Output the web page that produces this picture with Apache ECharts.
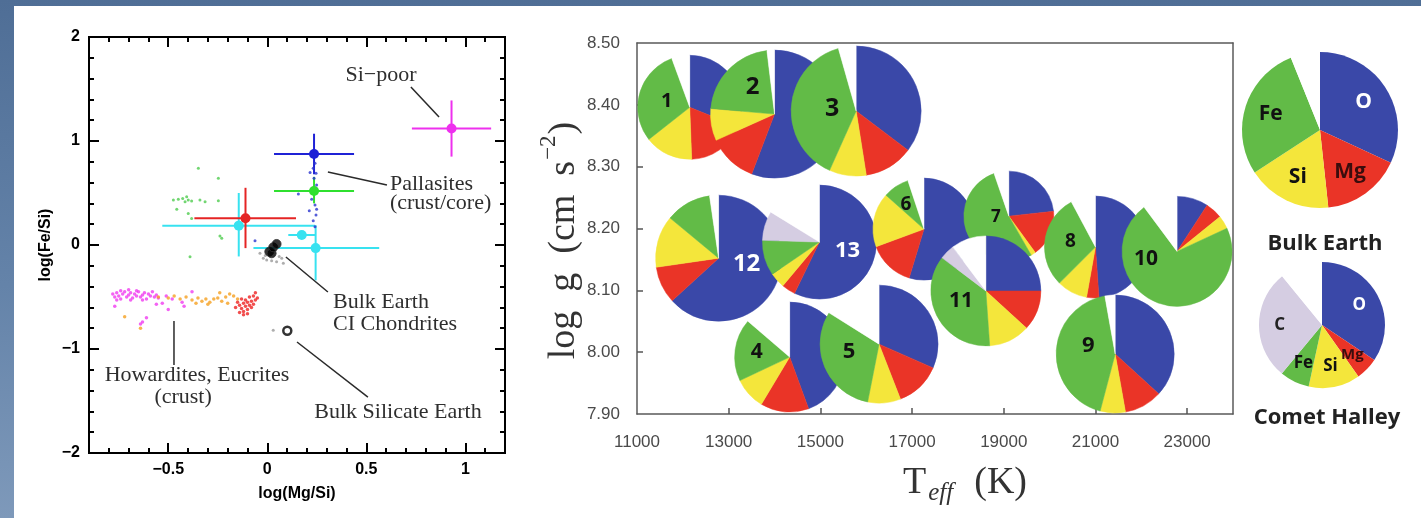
<!DOCTYPE html>
<html><head><meta charset="utf-8">
<script src="https://cdn.jsdelivr.net/npm/echarts@6/dist/echarts.min.js"></script>
<style>
html,body{margin:0;padding:0;width:1421px;height:518px;overflow:hidden;background:linear-gradient(180deg,#4f6e96 0%,#6483a9 55%,#7e99ba 100%);}
#panel{position:absolute;left:14px;top:6px;right:0;bottom:0;background:#fff;}
#chart{position:absolute;left:0;top:0;width:1421px;height:518px;}
</style></head><body><div id="panel"></div><div id="chart"></div>
<script>
// ================= LEFT PANEL DATA: log(Mg/Si) vs log(Fe/Si) =================
const leftXMajor = [-0.5, 0, 0.5, 1];
const leftXMinor = [-0.8,-0.7,-0.6,-0.4,-0.3,-0.2,-0.1,0.1,0.2,0.3,0.4,0.6,0.7,0.8,0.9,1.1];
const leftYMajor = [-2, -1, 0, 1, 2];
const leftYMinor = [-1.8,-1.6,-1.4,-1.2,-0.8,-0.6,-0.4,-0.2,0.2,0.4,0.6,0.8,1.2,1.4,1.6,1.8];

// error-bar objects (cyan x3, red, green, blue, magenta)
const ebX   = [0.244, 0.174, -0.144, -0.110, 0.236, 0.236, 0.930];
const ebY   = [-0.030, 0.096, 0.186, 0.257, 0.520, 0.875, 1.120];
const ebXlo = [-0.070, 0.106, -0.530, -0.368, 0.034, 0.034, 0.730];
const ebXhi = [0.565, 0.241, 0.241, 0.145, 0.438, 0.438, 1.130];
const ebYlo = [-0.340, 0.096, -0.110, -0.030, 0.400, 0.680, 0.850];
const ebYhi = [0.190, 0.096, 0.500, 0.550, 0.655, 1.070, 1.390];
const ebColor = ['#38e2f0','#38e2f0','#38e2f0','#e52424','#2fe02f','#1f22d6','#ee30ee'];

const bulkEarthPts = [[0.010,-0.064],[0.022,-0.080],[0.030,-0.022],[0.047,0.010]];
const bsePts = [[0.101,-0.824]];
const grayDots = [[-0.037,-0.080],[-0.020,-0.128],[-0.003,-0.144],[0.022,-0.151],[0.047,-0.160],[0.073,-0.128],[0.081,-0.176],[0.030,-0.820],[0.060,-0.110],[-0.010,-0.100]];
const greenDots = [[-0.348,0.737],[-0.247,0.641],[-0.474,0.433],[-0.449,0.439],[-0.427,0.446],[-0.407,0.465],[-0.399,0.433],[-0.415,0.417],[-0.382,0.423],[-0.340,0.433],[-0.314,0.417],[-0.247,0.426],[-0.457,0.343],[-0.399,0.304],[-0.382,0.256],[-0.239,0.087],[-0.230,0.064],[-0.390,-0.112]];
const blueDots = [[0.241,0.785],[0.232,0.737],[0.246,0.689],[0.216,0.696],[0.236,0.641],[0.249,0.577],[0.157,0.490],[0.224,0.439],[0.241,0.385],[0.249,0.343],[0.212,0.330],[0.246,0.288],[0.232,0.234],[0.241,0.176],[-0.062,0.042]];
const magentaDots = [[-0.78,-0.47],[-0.77,-0.50],[-0.76,-0.46],[-0.75,-0.49],[-0.74,-0.52],[-0.73,-0.47],[-0.72,-0.45],[-0.71,-0.50],[-0.70,-0.48],[-0.69,-0.46],[-0.68,-0.51],[-0.67,-0.47],[-0.66,-0.49],[-0.65,-0.45],[-0.64,-0.50],[-0.63,-0.48],[-0.62,-0.46],[-0.61,-0.52],[-0.60,-0.47],[-0.59,-0.49],[-0.58,-0.45],[-0.57,-0.50],[-0.56,-0.48],[-0.55,-0.51],[-0.74,-0.44],[-0.70,-0.43],[-0.66,-0.44],[-0.76,-0.53],[-0.69,-0.53],[-0.63,-0.53],[-0.77,-0.59],[-0.51,-0.49],[-0.48,-0.52],[-0.50,-0.62],[-0.43,-0.55],[-0.42,-0.59],[-0.63,-0.74],[-0.61,-0.70],[-0.64,-0.76],[-0.38,-0.45],[-0.53,-0.56],[-0.56,-0.57]];
const orangeDots = [[-0.55,-0.50],[-0.50,-0.51],[-0.47,-0.49],[-0.44,-0.52],[-0.41,-0.50],[-0.38,-0.53],[-0.35,-0.51],[-0.33,-0.54],[-0.31,-0.52],[-0.29,-0.55],[-0.27,-0.52],[-0.25,-0.51],[-0.23,-0.54],[-0.21,-0.50],[-0.19,-0.47],[-0.17,-0.49],[-0.36,-0.56],[-0.30,-0.57],[-0.72,-0.69],[-0.64,-0.80],[-0.24,-0.46],[-0.20,-0.56],[-0.15,-0.52]];
const redDots = [[-0.15,-0.55],[-0.14,-0.58],[-0.13,-0.52],[-0.13,-0.61],[-0.12,-0.56],[-0.12,-0.64],[-0.11,-0.53],[-0.11,-0.59],[-0.10,-0.62],[-0.10,-0.55],[-0.09,-0.58],[-0.09,-0.50],[-0.08,-0.60],[-0.08,-0.54],[-0.07,-0.57],[-0.07,-0.49],[-0.06,-0.53],[-0.12,-0.67],[-0.14,-0.65],[-0.10,-0.66],[-0.16,-0.60],[-0.06,-0.46],[-0.05,-0.51]];

// annotations (text anchored in data units)
const annoText  = ['Si\u2212poor','Pallasites','(crust/core)','Bulk Earth','CI Chondrites','Howardites, Eucrites','(crust)','Bulk Silicate Earth'];
const annoX     = [0.574, 0.619, 0.619, 0.332, 0.332, -0.355, -0.425, 0.660];
const annoY     = [1.635, 0.587, 0.404, -0.548, -0.760, -1.250, -1.462, -1.606];
const annoAlign = ['center','left','left','left','left','center','center','center'];
const leaderX1 = [0.725, 0.306, 0.094, 0.150, -0.471];
const leaderY1 = [1.519, 0.702, -0.115, -0.933, -0.731];
const leaderX2 = [0.867, 0.604, 0.306, 0.508, -0.471];
const leaderY2 = [1.231, 0.577, -0.452, -1.462, -1.154];

// ================= RIGHT PANEL DATA: Teff vs log g, pie compositions (%) =================
const rightXLabels = [11000,13000,15000,17000,19000,21000,23000];
const rightXTicks  = [13000,15000,17000,19000,21000,23000];
const rightYLabels = [7.9,8.0,8.1,8.2,8.3,8.4,8.5];
const rightYTicks  = [8.0,8.1,8.2,8.3,8.4];

const pieIds = ['1','2','3','12','13','4','5','6','7','8','9','10','11'];
const pieTeff = [12150,14000,15780,12780,14980,14330,16280,17260,19110,21000,21430,22780,18610];
const pieLogg = [8.396,8.385,8.390,8.152,8.178,7.992,8.013,8.199,8.220,8.170,7.997,8.163,8.099];
const pctO    = [31.1,55.8,35.3,63.2,57.2,44.4,31.6,54.7,23.3,48.9,36.8, 9.2,25.0];
const pctMg   = [18.3,12.5,12.2, 9.5, 3.9,14.2,12.5,14.7,16.7, 3.9,10.4, 5.0,11.8];
const pctSi   = [15.0, 8.1, 9.2,13.3, 4.4, 9.4, 9.0,17.2, 1.7, 9.7, 6.9, 3.9,12.1];
const pctFe   = [30.0,21.7,38.9,11.7,10.0,18.3,30.8, 8.3,53.0,29.7,43.1,71.7,36.4];
const pctC    = [ 0.0, 0.0, 0.0, 0.0, 8.3, 0.0, 0.0, 0.0, 0.0, 0.0, 0.0, 0.0, 4.4];
const pctRest = [ 5.6, 1.9, 4.4, 2.3,16.2,13.7,16.1, 5.1, 5.3, 7.8, 2.8,10.2,10.3];

const elementNames = ['O','Mg','Si','Fe','C',''];
const bulkEarthPct   = [31.9,16.4,17.5,28.1, 0.0, 6.1];
const cometHalleyPct = [34.4, 5.8,13.2, 7.6,28.1,10.9];

// ---------- layout / style (kept apart from the data) ----------
const sliceColors = ['#3a48a8','#ea3427','#f4e63b','#62bb47','#d5cde2','#ffffff'];
const pieRadiusPx = [52,64,65,63,57,55,59,51,45,51,59,55,55];
const pieLabelOffset = [[-23,-6],[-22,-27],[-24,-2],[28,6],[28,9],[-33,-5],[-30,8],[-18,-25],[-13,1],[-25,-5],[-27,-8],[-31,8],[-25,10]];
const pieLabelColor = ['#111','#111','#111','#fff','#fff','#111','#111','#111','#111','#111','#111','#111','#111'];

const minus = v => (v < 0 ? '\u2212' + Math.abs(v) : String(v));

const chart = echarts.init(document.getElementById('chart'), null, {renderer: 'canvas'});

const axisFontL = {fontFamily: 'Liberation Sans', fontWeight: 'bold', fontSize: 16, color: '#000'};
function leftAxis(pos, min, max, ticks, len, labels, extra) {
  return Object.assign({
    gridIndex: 0, type: 'value', position: pos, min: min, max: max,
    axisLine: {show: true, onZero: false, lineStyle: {color: '#000', width: 2}}, splitLine: {show: false},
    axisTick: {show: true, inside: true, length: len, customValues: ticks, lineStyle: {color: '#000', width: 2}},
    axisLabel: labels ? Object.assign({customValues: labels, formatter: minus, margin: 9}, axisFontL) : {show: false}
  }, extra || {});
}

const rightLabelFont = {fontFamily: 'Liberation Sans', fontSize: 17, color: '#4a4a4a'};
const serif = 'Liberation Serif';

function legendPieSeries(center, radius, pct, labelSize) {
  const base = elementNames.map((n, k) => ({name: n, value: pct[k], color: sliceColors[k]})).filter(d => d.value > 0);
  const labelColor = {O: '#fff', Mg: '#3a0d0d', Si: '#111', Fe: '#111', C: '#222', '': '#000'};
  return [
    {type: 'pie', center: center, radius: radius, startAngle: 90, clockwise: true, silent: true, animation: false,
     label: {show: false}, labelLine: {show: false}, emphasis: {disabled: true},
     data: base.map(d => ({name: d.name, value: d.value, itemStyle: {color: d.color, borderWidth: 0}}))},
    {type: 'pie', center: center, radius: radius * 1.25, startAngle: 90, clockwise: true, silent: true, animation: false,
     avoidLabelOverlap: false, labelLine: {show: false}, emphasis: {disabled: true},
     label: {show: true, position: 'inside', formatter: '{b}', fontFamily: 'Open Sans', fontWeight: 'bold', fontSize: labelSize},
     data: base.map(d => ({name: d.name, value: d.value, itemStyle: {color: 'rgba(0,0,0,0)', borderWidth: 0},
       label: {color: labelColor[d.name], fontSize: d.name === 'Mg' && labelSize < 20 ? labelSize - 2 : labelSize}}))}
  ];
}

const rightAxisLine = {show: true, onZero: false, lineStyle: {color: '#5a5a5a', width: 1.5}};

const option = {
  animation: false,
  backgroundColor: 'transparent',
  title: [
    {text: 'Bulk Earth', left: 1320, top: 228, textAlign: 'center', textStyle: {fontFamily: 'Open Sans', fontWeight: 'bold', fontSize: 22, color: '#222'}},
    {text: 'Comet Halley', left: 1322, top: 402, textAlign: 'center', textStyle: {fontFamily: 'Open Sans', fontWeight: 'bold', fontSize: 22, color: '#222'}}
  ],
  grid: [
    {left: 89, top: 37, width: 416, height: 416, show: false},
    {left: 637, top: 43, width: 596, height: 371, show: false}
  ],
  xAxis: [
    leftAxis('bottom', -0.9, 1.2, leftXMajor, 10, leftXMajor, {
      name: 'log(Mg/Si)', nameLocation: 'middle', nameGap: 33,
      nameTextStyle: Object.assign({}, axisFontL)}),
    leftAxis('bottom', -0.9, 1.2, leftXMinor, 5, null),
    leftAxis('top', -0.9, 1.2, leftXMajor, 10, null),
    leftAxis('top', -0.9, 1.2, leftXMinor, 5, null),
    {gridIndex: 1, type: 'value', position: 'bottom', min: 11000, max: 24000,
     axisLine: rightAxisLine, splitLine: {show: false},
     axisTick: {show: true, inside: true, length: 6, customValues: rightXTicks, lineStyle: {color: '#555', width: 1.5}},
     axisLabel: Object.assign({customValues: rightXLabels, margin: 20, formatter: v => String(v)}, rightLabelFont),
     name: '{T|T}{s|eff}{n|  (K)}', nameLocation: 'middle', nameGap: 50,
     nameTextStyle: {padding: [0, 0, 0, 60], rich: {
       T: {fontFamily: serif, fontSize: 38, color: '#333', lineHeight: 42, verticalAlign: 'top'},
       s: {fontFamily: serif, fontStyle: 'italic', fontSize: 25, color: '#333', lineHeight: 22, padding: [24, 2, 0, 2], verticalAlign: 'bottom'},
       n: {fontFamily: serif, fontSize: 38, color: '#333', lineHeight: 42, verticalAlign: 'top'}}}},
    {gridIndex: 1, type: 'value', position: 'top', min: 11000, max: 24000,
     axisLine: rightAxisLine, splitLine: {show: false}, axisTick: {show: false}, axisLabel: {show: false}}
  ],
  yAxis: [
    leftAxis('left', -2, 2, leftYMajor, 10, leftYMajor, {
      name: 'log(Fe/Si)', nameLocation: 'middle', nameGap: 35, nameRotate: 90,
      nameTextStyle: Object.assign({}, axisFontL)}),
    leftAxis('left', -2, 2, leftYMinor, 5, null),
    leftAxis('right', -2, 2, leftYMajor, 10, null),
    leftAxis('right', -2, 2, leftYMinor, 5, null),
    {gridIndex: 1, type: 'value', position: 'left', min: 7.9, max: 8.5,
     axisLine: rightAxisLine, splitLine: {show: false},
     axisTick: {show: true, inside: true, length: 6, customValues: rightYTicks, lineStyle: {color: '#555', width: 1.5}},
     axisLabel: Object.assign({customValues: rightYLabels, margin: 17, formatter: v => v.toFixed(2)}, rightLabelFont),
     name: '{a|log  }{g|g}{a|  (cm  s}{sup|\u22122}{a|)}', nameLocation: 'middle', nameGap: 52, nameRotate: 90,
     nameTextStyle: {padding: [0, 24, 0, 0], rich: {
       a: {fontFamily: serif, fontSize: 38, color: '#333', lineHeight: 46, verticalAlign: 'bottom'},
       g: {fontFamily: serif, fontSize: 38, color: '#333', lineHeight: 46, verticalAlign: 'bottom'},
       sup: {fontFamily: serif, fontSize: 23, color: '#333', lineHeight: 22, padding: [0, 1, 0, 1], verticalAlign: 'top'}}}},
    {gridIndex: 1, type: 'value', position: 'right', min: 7.9, max: 8.5,
     axisLine: rightAxisLine, splitLine: {show: false}, axisTick: {show: false}, axisLabel: {show: false}}
  ],
  series: [
    // ---- left small dots ----
    {type: 'scatter', xAxisIndex: 0, yAxisIndex: 0, symbolSize: 3, itemStyle: {color: '#9a9a9a'}, data: grayDots, silent: true},
    {type: 'scatter', xAxisIndex: 0, yAxisIndex: 0, symbolSize: 3, itemStyle: {color: '#4fcc4f'}, data: greenDots, silent: true},
    {type: 'scatter', xAxisIndex: 0, yAxisIndex: 0, symbolSize: 3, itemStyle: {color: '#2b35cf'}, data: blueDots, silent: true},
    {type: 'scatter', xAxisIndex: 0, yAxisIndex: 0, symbolSize: 3.5, itemStyle: {color: '#f03cf0'}, data: magentaDots, silent: true},
    {type: 'scatter', xAxisIndex: 0, yAxisIndex: 0, symbolSize: 3.5, itemStyle: {color: '#f5a020'}, data: orangeDots, silent: true},
    {type: 'scatter', xAxisIndex: 0, yAxisIndex: 0, symbolSize: 3.5, itemStyle: {color: '#ee2222'}, data: redDots, silent: true},
    // ---- error bar crosses ----
    {type: 'custom', xAxisIndex: 0, yAxisIndex: 0, silent: true,
     data: ebX.map((x, i) => [x, ebY[i], ebXlo[i], ebXhi[i], ebYlo[i], ebYhi[i]]),
     encode: {x: [0, 2, 3], y: [1, 4, 5]},
     renderItem: function (params, api) {
       const i = params.dataIndex, col = ebColor[i];
       const c = api.coord([api.value(0), api.value(1)]);
       const xl = api.coord([api.value(2), api.value(1)]), xh = api.coord([api.value(3), api.value(1)]);
       const yl = api.coord([api.value(0), api.value(4)]), yh = api.coord([api.value(0), api.value(5)]);
       return {type: 'group', children: [
         {type: 'line', shape: {x1: xl[0], y1: xl[1], x2: xh[0], y2: xh[1]}, style: {stroke: col, lineWidth: 2}},
         {type: 'line', shape: {x1: yl[0], y1: yl[1], x2: yh[0], y2: yh[1]}, style: {stroke: col, lineWidth: 2}},
         {type: 'circle', shape: {cx: c[0], cy: c[1], r: 5}, style: {fill: col}}
       ]};
     }},
    // ---- Bulk Earth / CI chondrites, Bulk Silicate Earth ----
    {type: 'scatter', xAxisIndex: 0, yAxisIndex: 0, symbolSize: 9, itemStyle: {color: '#000', borderColor: '#333', borderWidth: 1}, data: bulkEarthPts, silent: true},
    {type: 'scatter', xAxisIndex: 0, yAxisIndex: 0, symbolSize: 8, itemStyle: {color: '#fff', borderColor: '#000', borderWidth: 2.5}, data: bsePts, silent: true},
    // ---- leader lines ----
    {type: 'custom', xAxisIndex: 0, yAxisIndex: 0, silent: true,
     data: leaderX1.map((x, i) => [x, leaderY1[i], leaderX2[i], leaderY2[i]]),
     encode: {x: [0, 2], y: [1, 3]},
     renderItem: function (params, api) {
       const a = api.coord([api.value(0), api.value(1)]), b = api.coord([api.value(2), api.value(3)]);
       return {type: 'line', shape: {x1: a[0], y1: a[1], x2: b[0], y2: b[1]}, style: {stroke: '#2a2a2a', lineWidth: 1.5}};
     }},
    // ---- annotation texts ----
    {type: 'custom', xAxisIndex: 0, yAxisIndex: 0, silent: true,
     data: annoX.map((x, i) => [x, annoY[i]]),
     encode: {x: 0, y: 1},
     renderItem: function (params, api) {
       const i = params.dataIndex;
       const p = api.coord([api.value(0), api.value(1)]);
       return {type: 'text', x: p[0], y: p[1], style: {text: annoText[i], fill: '#2e2e2e',
         font: '22px "Liberation Serif"', align: annoAlign[i], verticalAlign: 'middle'}};
     }},
    // ---- right panel pies on Teff / log g axes ----
    {type: 'custom', xAxisIndex: 4, yAxisIndex: 4, silent: true, clip: false,
     data: pieIds.map((id, i) => [pieTeff[i], pieLogg[i], pctO[i], pctMg[i], pctSi[i], pctFe[i], pctC[i], pctRest[i]]),
     encode: {x: 0, y: 1},
     renderItem: function (params, api) {
       const i = params.dataIndex;
       const c = api.coord([api.value(0), api.value(1)]);
       const r = pieRadiusPx[i];
       const children = [];
       let a = -Math.PI / 2;
       for (let k = 0; k < 6; k++) {
         const v = api.value(2 + k);
         if (!(v > 0)) continue;
         const b = a + v / 100 * Math.PI * 2;
         children.push({type: 'sector', shape: {cx: c[0], cy: c[1], r0: 0, r: r, startAngle: a, endAngle: b, clockwise: true},
           style: {fill: sliceColors[k], stroke: sliceColors[k], lineWidth: 0.5}});
         a = b;
       }
       children.push({type: 'text', x: c[0] + pieLabelOffset[i][0], y: c[1] + pieLabelOffset[i][1],
         style: {text: pieIds[i], fill: pieLabelColor[i], font: 'bold ' + Math.round(r * 0.38) + 'px "Open Sans"', align: 'center', verticalAlign: 'middle'}});
       return {type: 'group', children: children};
     }}
  ].concat(legendPieSeries([1320, 130], 78, bulkEarthPct, 21))
   .concat(legendPieSeries([1322, 325], 63, cometHalleyPct, 17))
};
chart.setOption(option);
</script></body></html>
